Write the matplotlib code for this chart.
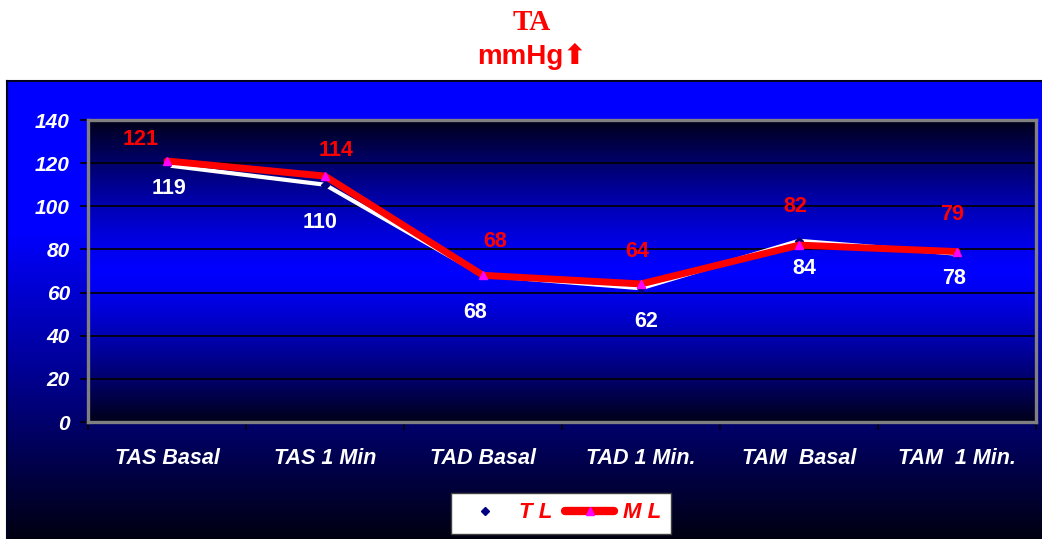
import numpy as np
import matplotlib
matplotlib.use("Agg")
import matplotlib.pyplot as plt
from matplotlib.lines import Line2D

# ---- data ----
categories = ["TAS Basal", "TAS 1 Min", "TAD Basal", "TAD 1 Min.", "TAM  Basal", "TAM  1 Min."]
tl_values = [119, 110, 68, 62, 84, 78]
ml_values = [121, 114, 68, 64, 82, 79]
y_ticks = [0, 20, 40, 60, 80, 100, 120, 140]
series_names = ["T L", "M L"]

# label offsets in pixels (dx, dy)
ml_label_offsets = [(-26, 21), (11, 26), (12, 34), (-4, 32), (-4, 39), (-5, 37)]
tl_label_offsets = [(2, -23), (-5, -38), (-8, -37), (5, -33), (5, -28), (-3, -25)]

W, H = 1042, 539
fig = plt.figure(figsize=(W / 100, H / 100), dpi=100)
fig.patch.set_facecolor("white")

def fx(px):
    return px / W

def fy(py):
    return 1 - py / H

# ---- outer chart area with vertical gradient ----
bg = fig.add_axes([fx(7), 0, fx(W - 7), fy(81)], zorder=0)
n = 400
frac = np.linspace(0, 1, n)  # 0 = top, 1 = bottom
blue = np.where(frac < 0.33, 1.0, 1.0 - (frac - 0.33) / 0.67 * 0.93)
img = np.zeros((n, 1, 3))
img[:, 0, 2] = blue
bg.imshow(img, aspect="auto", extent=[0, 1, 0, 1], interpolation="bilinear")
bg.set_xlim(0, 1)
bg.set_ylim(0, 1)
bg.set_xticks([])
bg.set_yticks([])
for side, sp in bg.spines.items():
    sp.set_color("#000020")
    sp.set_linewidth(1.5)
bg.spines["right"].set_visible(False)
bg.spines["bottom"].set_visible(False)

# ---- plot area ----
left, right, top, bottom = 88, 1036, 120, 422
ax = fig.add_axes([fx(left), fy(bottom), fx(right - left), fy(top) - fy(bottom)], zorder=2)
x = np.arange(len(categories))
ax.set_xlim(-0.5, len(categories) - 0.5)
ax.set_ylim(0, 140)

t = np.abs(np.linspace(-1, 1, n))
pb = 1 - 0.9 * t ** 1.3
pimg = np.zeros((n, 1, 3))
pimg[:, 0, 2] = pb
ax.imshow(pimg, aspect="auto", extent=[-0.5, len(categories) - 0.5, 0, 140],
          interpolation="bilinear", zorder=0)

for yv in y_ticks[1:]:
    ax.axhline(yv, color="black", lw=1.2, zorder=1)

for sp in ax.spines.values():
    sp.set_color("#808080")
    sp.set_linewidth(2.4)

ax.set_yticks(y_ticks)
ax.set_yticklabels([str(v) for v in y_ticks], color="white", fontsize=15,
                   fontweight="bold", fontstyle="italic", family="Liberation Sans")
ax.tick_params(axis="y", direction="out", length=6, width=1.2, color="black", pad=7)

ax.set_xticks(x)
ax.set_xticklabels(categories, color="white", fontsize=15.5, fontweight="bold",
                   fontstyle="italic", family="Liberation Sans")
ax.tick_params(axis="x", which="major", length=0, pad=19)
ax.set_xticks(np.arange(-0.5, len(categories)), minor=True)
ax.tick_params(axis="x", which="minor", direction="out", length=6, width=1.2, color="black")

# ---- series ----
ax.plot(x, tl_values, color="white", lw=3, zorder=3, marker="D", markersize=4,
        markerfacecolor="#000080", markeredgecolor="#000080")
ax.plot(x, ml_values, color="red", lw=5, zorder=4, marker="^", markersize=6,
        markerfacecolor="magenta", markeredgecolor="magenta", solid_capstyle="round")

for xi, v, (dx, dy) in zip(x, ml_values, ml_label_offsets):
    ax.annotate(str(v), (xi, v), xytext=(dx, dy), textcoords="offset pixels",
                ha="center", va="center", color="red", fontsize=15.5, fontweight="bold",
                family="Liberation Sans", zorder=5)
for xi, v, (dx, dy) in zip(x, tl_values, tl_label_offsets):
    ax.annotate(str(v), (xi, v), xytext=(dx, dy), textcoords="offset pixels",
                ha="center", va="center", color="white", fontsize=15.5, fontweight="bold",
                family="Liberation Sans", zorder=5)

# ---- title ----
fig.text(fx(532), fy(22), "TA", ha="center", va="center", color="red", fontsize=21,
         fontweight="bold", family="Liberation Serif")
fig.text(fx(532), fy(56), "mmHg\u2b06", ha="center", va="center", color="red", fontsize=20,
         fontweight="bold", family=["Liberation Sans", "DejaVu Sans"])

# ---- legend ----
handles = [
    Line2D([], [], color="none", marker="D", markersize=4,
           markerfacecolor="#000080", markeredgecolor="#000080"),
    Line2D([], [], color="red", lw=6, marker="^", markersize=6,
           markerfacecolor="magenta", markeredgecolor="magenta", solid_capstyle="round"),
]
leg = fig.legend(handles, series_names, loc="center", ncol=2,
                 bbox_to_anchor=(fx(561), fy(513)), frameon=True, fancybox=False,
                 framealpha=1, handlelength=2.2, columnspacing=0.6, handletextpad=0.4,
                 borderpad=0.45, prop={"family": "Liberation Sans", "weight": "bold",
                                       "style": "italic", "size": 16})
leg.get_frame().set_facecolor("white")
leg.get_frame().set_edgecolor("#404040")
leg.get_frame().set_linewidth(1)
leg.set_zorder(10)
for txt in leg.get_texts():
    txt.set_color("red")

fig.savefig("out.png", dpi=100)
